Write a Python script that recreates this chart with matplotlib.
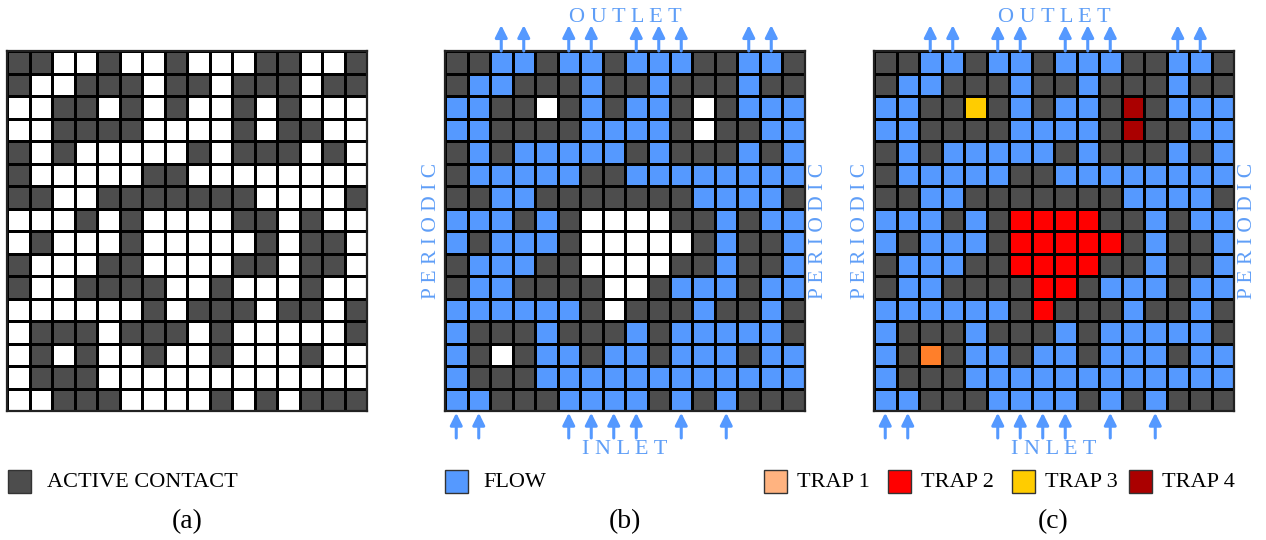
import numpy as np
import matplotlib
matplotlib.use("Agg")
import matplotlib.pyplot as plt
from matplotlib.colors import ListedColormap, BoundaryNorm
from matplotlib.patches import Rectangle

## Cell states of the 16x16 lattice (row 0 = top / outlet side)
## D = active contact, B = flow, W = no flow, 1..4 = trap number
grid_rows = [
    "DDBBDBBDBBBDDBBD",
    "DBBDDDBDDBDDDBDD",
    "BBDD3DBDBBD4DBBB",
    "BBDDDDBBBBD4DDBB",
    "DBDBBBBBDBDDDBDB",
    "DBBBBBDDBBBBBBBB",
    "DDBBDDDDDDDBBBBD",
    "BBBDBD2222DDBDBB",
    "BDBBBD22222DBDDB",
    "DBBBDD2222DDBDDB",
    "DBBDDDD22DBBBDBB",
    "BBBBBBD2DDDBDDBD",
    "BDDDBDDDBDBBBBBD",
    "BD1DBBDBBDBBBDBB",
    "BDDDBBBBBBBBBBBB",
    "BBDDDBBBBDBDBDDD",
]

legend_a = ["ACTIVE CONTACT"]
legend_b = ["FLOW"]
legend_c = ["TRAP 1", "TRAP 2", "TRAP 3", "TRAP 4"]
panel_labels = ["(a)", "(b)", "(c)"]

## Colours
c_white = "#ffffff"
c_dark = "#4d4d4d"
c_blue = "#5599ff"
c_trap = ["#ff7f2a", "#ff0000", "#ffcc00", "#aa0000"]
c_trap_legend = ["#ffb380", "#ff0000", "#ffcc00", "#aa0000"]
c_text_blue = "#5f9ef7"

code = {"W": 0, "D": 1, "B": 2, "1": 3, "2": 4, "3": 5, "4": 6}
cmap = ListedColormap([c_white, c_dark, c_blue] + c_trap)
norm = BoundaryNorm(np.arange(-0.5, 7.5, 1), 7)

G = np.array([[code[ch] for ch in row] for row in grid_rows])
N = G.shape[0]

G_c = G.copy()
G_b = np.where(G >= 3, 0, G)          ## traps shown as no-flow cells
G_a = np.where(G_b == 2, 0, G_b)      ## only contacts shown

plt.rcParams['font.family'] = ['Liberation Serif', 'DejaVu Serif']

fig = plt.figure(figsize=(12.66, 5.4), dpi=100)
W_px, H_px = 1266.0, 540.0

## overlay axes in pixel units for legends and labels
ov = fig.add_axes([0, 0, 1, 1])
ov.set_xlim(0, W_px)
ov.set_ylim(H_px, 0)
ov.axis("off")

grid_left = [7, 445, 874]
grid_top = 51
grid_size = 360


def draw_grid(left, data, flow_marks):
    ax = fig.add_axes([left / W_px, (H_px - grid_top - grid_size) / H_px,
                       grid_size / W_px, grid_size / H_px])
    ax.pcolormesh(np.arange(N + 1), np.arange(N + 1), data, cmap=cmap, norm=norm,
                  edgecolors="black", linewidth=1.0)
    ax.set_xlim(0, N)
    ax.set_ylim(N, 0)
    ax.set_xticks([])
    ax.set_yticks([])
    for s in ax.spines.values():
        s.set_linewidth(1.6)
        s.set_color("#222222")
    if flow_marks:
        ## outlet arrows above flow cells in the top row
        for j in range(N):
            if data[0, j] == 2:
                ax.annotate("", xy=(j + 0.5, -1.15), xytext=(j + 0.5, 0),
                            arrowprops=dict(arrowstyle="-|>", color=c_blue, lw=2.2,
                                            mutation_scale=18, shrinkA=0, shrinkB=0),
                            annotation_clip=False)
        ## inlet arrows below flow cells in the bottom row
        for j in range(N):
            if data[N - 1, j] == 2:
                ax.annotate("", xy=(j + 0.5, N + 0.08), xytext=(j + 0.5, N + 1.2),
                            arrowprops=dict(arrowstyle="-|>", color=c_blue, lw=2.2,
                                            mutation_scale=18, shrinkA=0, shrinkB=0),
                            annotation_clip=False)
        ax.text(N / 2, -1.5, "O U T L E T", color=c_text_blue, fontsize=16,
                ha="center", va="center", clip_on=False)
        ax.text(N / 2, N + 1.72, "I N L E T", color=c_text_blue, fontsize=16,
                ha="center", va="center", clip_on=False)
        ax.text(-0.58, N / 2, "P E R I O D I C", color=c_text_blue, fontsize=15.5,
                rotation=90, ha="center", va="center", clip_on=False)
        ax.text(N + 0.58, N / 2, "P E R I O D I C", color=c_text_blue, fontsize=15.5,
                rotation=90, ha="center", va="center", clip_on=False)
    return ax


ax_a = draw_grid(grid_left[0], G_a, False)
ax_b = draw_grid(grid_left[1], G_b, True)
ax_c = draw_grid(grid_left[2], G_c, True)

## legends
sq = 23
leg_y = 470


def legend_item(x, color, label, text_dx):
    ov.add_patch(Rectangle((x, leg_y), sq, sq, facecolor=color, edgecolor="#333333", lw=1.0))
    ov.text(x + text_dx, leg_y + sq / 2 + 1, label, fontsize=16, ha="left", va="center")


legend_item(8, c_dark, legend_a[0], 39)
legend_item(445, c_blue, legend_b[0], 38)
trap_x = [764, 888, 1012, 1129]
for k in range(4):
    legend_item(trap_x[k], c_trap_legend[k], legend_c[k], 33)

## panel labels
label_x = [187, 625, 1053]
for k in range(3):
    ov.text(label_x[k], 522, panel_labels[k], fontsize=20, ha="center", va="center")

fig.savefig("out.png", dpi=100)
